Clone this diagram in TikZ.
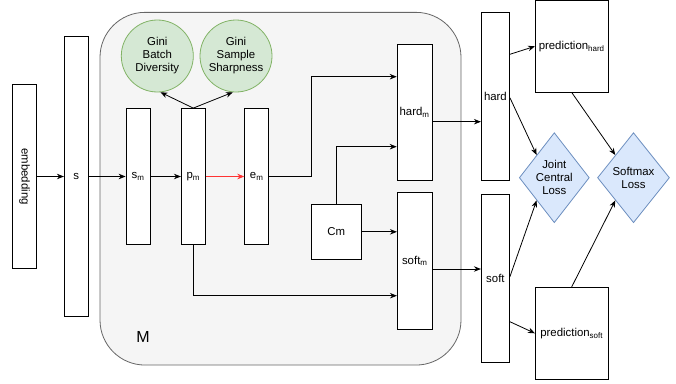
\documentclass[tikz,border=0pt]{standalone}
\usepackage{fontspec}
\setmainfont{Liberation Sans}
\usetikzlibrary{shapes.geometric, arrows.meta}

\definecolor{giniFill}{HTML}{D5E8D4}
\definecolor{giniLine}{HTML}{82B366}
\definecolor{lossFill}{HTML}{DAE8FC}
\definecolor{lossLine}{HTML}{6C8EBF}
\definecolor{modFill}{HTML}{F5F5F5}
\definecolor{modLine}{HTML}{666666}
\definecolor{arrRed}{HTML}{FF3333}

\begin{document}
\begin{tikzpicture}[x=1pt, y=-1pt,
  every node/.style={font=\fontsize{11.4}{13}\selectfont},
  layer/.style={draw, fill=white, line width=0.8pt, inner sep=0pt},
  gini/.style={circle, draw=giniLine, fill=giniFill, line width=0.8pt, minimum size=72pt, inner sep=0pt, align=center},
  loss/.style={diamond, draw=lossLine, fill=lossFill, line width=0.8pt, aspect=0.78, inner sep=0pt, minimum height=90pt, align=center},
  arr/.style={-{Stealth[length=7pt,width=5.5pt]}, line width=0.8pt}]
\useasboundingbox (0,0) rectangle (676,383);

%module M
\node[draw=modLine, fill=modFill, rounded corners=45pt, line width=0.8pt, minimum width=361pt, minimum height=352.7pt] (mod) at (280.5,188.7) {};
\node[font=\fontsize{16}{18}\selectfont] (modlabel) at (143,336.5) {M};

%input layers
\node[layer, rotate=-90, minimum width=184pt, minimum height=24pt] (emb) at (24.5,176.5) {embedding};
\node[layer, minimum width=24pt, minimum height=280.4pt] (s) at (76.3,176.5) {s};

%inside M
\node[layer, minimum width=24pt, minimum height=136pt] (sm) at (138,176.5) {s\textsubscript{m}};
\node[layer, minimum width=24pt, minimum height=136pt] (pm) at (193.3,176.5) {p\textsubscript{m}};
\node[layer, minimum width=24pt, minimum height=136pt] (em) at (256.7,176.5) {e\textsubscript{m}};
\node[gini] (gbd) at (157.3,56) {Gini\\Batch\\Diversity};
\node[gini] (gss) at (236,56) {Gini\\Sample\\Sharpness};
\node[layer, minimum width=49.3pt, minimum height=55pt] (cm) at (336.3,231.8) {Cm};
\node[layer, minimum width=35pt, minimum height=136.4pt] (hardm) at (414.6,112.5) {hard\textsubscript{m}};
\node[layer, minimum width=35pt, minimum height=136.3pt] (softm) at (414.8,260.8) {soft\textsubscript{m}};

%outputs
\node[layer, minimum width=28.2pt, minimum height=168pt] (hard) at (495.4,96.7) {hard};
\node[layer, minimum width=28.2pt, minimum height=168.4pt] (soft) at (495.4,278.5) {soft};
\node[layer, minimum width=72.7pt, minimum height=91.5pt] (predhard) at (571.7,46.3) {prediction\textsubscript{hard}};
\node[layer, minimum width=72.7pt, minimum height=92pt] (predsoft) at (571.7,333.3) {prediction\textsubscript{soft}};
\node[loss, minimum width=70pt] (jcl) at (554.3,177.7) {Joint\\Central\\Loss};
\node[loss, minimum width=72pt] (smx) at (633.5,177.7) {Softmax\\Loss};

%arrows
\coordinate (emturn) at (311.7,76.7);
\draw[arr] (emb) -- (s);
\draw[arr] (s) -- (sm);
\draw[arr] (sm) -- (pm);
\draw[arr, color=arrRed] (pm) -- (em);
\draw[arr] (pm.north) -- (gbd.-85);
\draw[arr] (pm.north) -- (gss.-95);
\draw[arr] (em.east) -| (emturn) -- (emturn -| hardm.west);
\draw[arr] (cm.north) |- (hardm.west |- 0,146.7);
\draw[arr] (cm.east) -- (cm.east -| softm.west);
\draw[arr] (pm.south) |- (softm.west |- 0,295.7);
\draw[arr] (hardm.east |- 0,121.7) -- (hard.west |- 0,121.7);
\draw[arr] (softm.east |- 0,269) -- (soft.west |- 0,269);
\draw[arr] (hard.east |- 0,54.3) -- (predhard.west);
\draw[arr] (hard.east |- 0,97.7) -- (jcl.north west);
\draw[arr] (soft.east |- 0,276.7) -- (jcl.south west);
\draw[arr] (soft.east |- 0,321.7) -- (predsoft.west);
\draw[arr] (predhard.south) -- (smx.north west);
\draw[arr] (predsoft.north) -- (smx.south west);

\end{tikzpicture}
\end{document}
